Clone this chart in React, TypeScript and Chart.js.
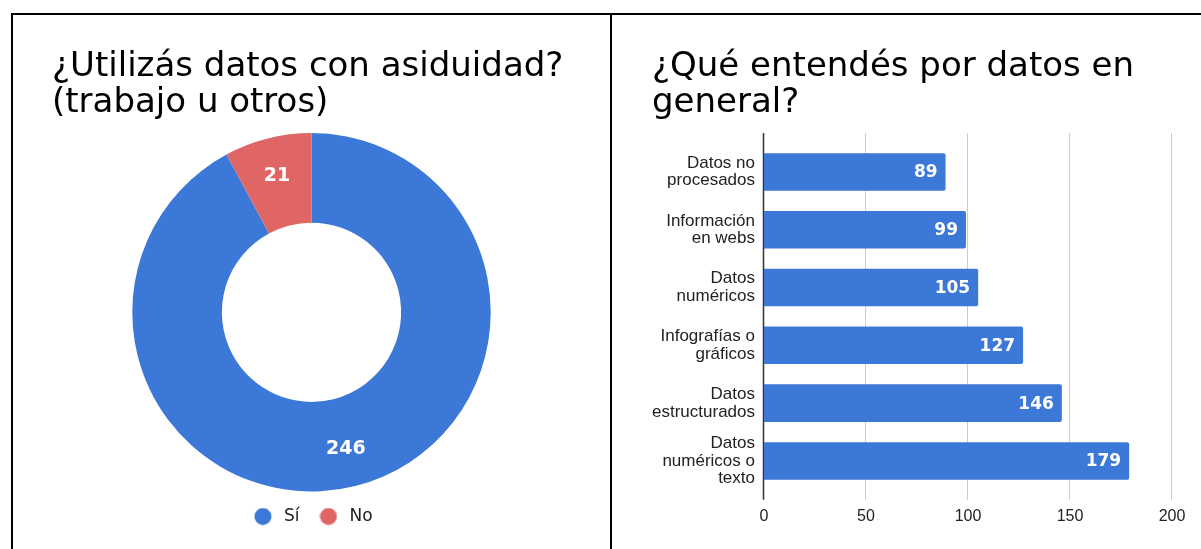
import React, { useEffect, useRef } from 'react';
import { Chart, registerables } from 'chart.js';

Chart.register(...registerables);

// ---- Data ----
const donutTitle = ['¿Utilizás datos con asiduidad?', '(trabajo u otros)'];
const donutLabels = ['Sí', 'No'];
const donutValues = [246, 21];
const donutColors = ['#3c78d8', '#e06666'];

const barTitle = ['¿Qué entendés por datos en', 'general?'];
const barCategories = [
  ['Datos no', 'procesados'],
  ['Información', 'en webs'],
  ['Datos', 'numéricos'],
  ['Infografías o', 'gráficos'],
  ['Datos', 'estructurados'],
  ['Datos', 'numéricos o', 'texto'],
];
const barValues = [89, 99, 105, 127, 146, 179];
const barColor = '#3c78d8';
const xTickValues = [0, 50, 100, 150, 200];

const TITLE_FONT = { family: '"DejaVu Sans"', size: 34, lineHeight: 1.06, weight: 'normal' as const };

function circleImage(color: string) {
  const c = document.createElement('canvas');
  c.width = 18;
  c.height = 18;
  const g = c.getContext('2d');
  if (g) {
    g.fillStyle = color;
    g.beginPath();
    g.arc(9, 9, 8.5, 0, Math.PI * 2);
    g.fill();
  }
  return c;
}

const donutLabelPlugin = {
  id: 'donutValueLabels',
  afterDatasetsDraw(chart: any) {
    const meta = chart.getDatasetMeta(0);
    const ctx = chart.ctx;
    ctx.save();
    ctx.fillStyle = '#ffffff';
    ctx.font = 'bold 19px "DejaVu Sans"';
    ctx.textAlign = 'center';
    ctx.textBaseline = 'middle';
    meta.data.forEach((arc: any, i: number) => {
      const { x, y, startAngle, endAngle, innerRadius, outerRadius } = arc.getProps(
        ['x', 'y', 'startAngle', 'endAngle', 'innerRadius', 'outerRadius'],
        false
      );
      const mid = (startAngle + endAngle) / 2;
      const r = innerRadius + (outerRadius - innerRadius) * 0.57;
      ctx.fillText(String(chart.data.datasets[0].data[i]), x + Math.cos(mid) * r, y + Math.sin(mid) * r);
    });
    ctx.restore();
  },
};

const barGridPlugin = {
  id: 'barGrid',
  beforeDatasetsDraw(chart: any) {
    const xs = chart.scales.x;
    const { top, bottom } = chart.chartArea;
    const ext = 10;
    const ctx = chart.ctx;
    ctx.save();
    xs.ticks.forEach((t: any) => {
      const px = Math.round(xs.getPixelForValue(t.value)) - 0.5;
      ctx.strokeStyle = t.value === 0 ? '#333333' : '#cccccc';
      ctx.lineWidth = t.value === 0 ? 1.5 : 1;
      ctx.beginPath();
      ctx.moveTo(px, top - ext);
      ctx.lineTo(px, bottom + ext);
      ctx.stroke();
    });
    ctx.restore();
  },
};

const barLabelPlugin = {
  id: 'barValueLabels',
  afterDatasetsDraw(chart: any) {
    const meta = chart.getDatasetMeta(0);
    const ctx = chart.ctx;
    ctx.save();
    ctx.fillStyle = '#ffffff';
    ctx.font = 'bold 17px "DejaVu Sans"';
    ctx.textAlign = 'right';
    ctx.textBaseline = 'middle';
    meta.data.forEach((bar: any, i: number) => {
      ctx.fillText(String(chart.data.datasets[0].data[i]), bar.x - 8, bar.y + 1);
    });
    ctx.restore();
  },
};

function DonutChart() {
  const ref = useRef<HTMLCanvasElement>(null);
  useEffect(() => {
    if (!ref.current) return;
    const chart = new Chart(ref.current, {
      type: 'doughnut',
      data: {
        labels: donutLabels,
        datasets: [
          {
            data: donutValues,
            backgroundColor: donutColors,
            borderWidth: 0,
          },
        ],
      },
      options: {
        responsive: false,
        animation: false,
        cutout: '50%',
        layout: { padding: { left: 39, right: 39, top: 0, bottom: 0 } },
        plugins: {
          title: {
            display: true,
            text: donutTitle,
            align: 'start',
            color: '#000000',
            font: TITLE_FONT,
            padding: { top: 34, bottom: 12 },
          },
          legend: {
            display: true,
            position: 'bottom',
            labels: {
              usePointStyle: true,
              pointStyleWidth: 25,
              boxHeight: 12,
              padding: 16.5,
              color: '#222222',
              font: { family: '"DejaVu Sans"', size: 17 },
              generateLabels: (chart: any) => {
                const base = (Chart as any).overrides.doughnut.plugins.legend.labels.generateLabels(chart);
                return base.map((item: any) => ({ ...item, pointStyle: circleImage(item.fillStyle) }));
              },
            },
          },
          tooltip: { enabled: false },
        },
      },
      plugins: [donutLabelPlugin],
    });
    return () => chart.destroy();
  }, []);
  return <canvas ref={ref} width={597} height={520} />;
}

function BarChart() {
  const ref = useRef<HTMLCanvasElement>(null);
  useEffect(() => {
    if (!ref.current) return;
    const chart = new Chart(ref.current, {
      type: 'bar',
      data: {
        labels: barCategories,
        datasets: [
          {
            data: barValues,
            backgroundColor: barColor,
            borderRadius: 2,
            borderSkipped: 'start',
            barPercentage: 0.65,
            categoryPercentage: 1,
          },
        ],
      },
      options: {
        indexAxis: 'y',
        responsive: false,
        animation: false,
        layout: { padding: { left: 40, right: 37, top: 0, bottom: 0 } },
        scales: {
          x: {
            min: xTickValues[0],
            max: xTickValues[xTickValues.length - 1],
            ticks: {
              stepSize: xTickValues[1] - xTickValues[0],
              padding: 17,
              color: '#222222',
              font: { family: '"Liberation Sans"', size: 16 },
            },
            grid: { display: false, drawTicks: false },
            border: { display: false },
          },
          y: {
            ticks: {
              autoSkip: false,
              padding: 9,
              color: '#222222',
              font: { family: '"Liberation Sans"', size: 17, lineHeight: 1.03 },
            },
            grid: { display: false, drawTicks: false },
            border: { display: false },
            afterFit: (scale: any) => {
              scale.width = 112;
              scale.paddingTop = 0;
              scale.paddingBottom = 0;
            },
          },
        },
        plugins: {
          title: {
            display: true,
            text: barTitle,
            align: 'start',
            color: '#000000',
            font: TITLE_FONT,
            padding: { top: 34, bottom: 22 },
          },
          legend: { display: false },
          tooltip: { enabled: false },
        },
      },
      plugins: [barGridPlugin, barLabelPlugin],
    });
    return () => chart.destroy();
  }, []);
  return <canvas ref={ref} width={597} height={528} />;
}

export default function App() {
  return (
    <div
      style={{
        position: 'fixed',
        left: 0,
        top: 0,
        width: 1201,
        height: 549,
        overflow: 'hidden',
        background: '#ffffff',
      }}
    >
      <div
        style={{
          position: 'absolute',
          left: 11,
          top: 13,
          width: 1400,
          height: 800,
          borderLeft: '2px solid #000',
          borderTop: '2px solid #000',
        }}
      />
      <div style={{ position: 'absolute', left: 610, top: 13, width: 2, height: 800, background: '#000' }} />
      <div style={{ position: 'absolute', left: 13, top: 15 }}>
        <DonutChart />
      </div>
      <div style={{ position: 'absolute', left: 612, top: 15 }}>
        <BarChart />
      </div>
    </div>
  );
}
